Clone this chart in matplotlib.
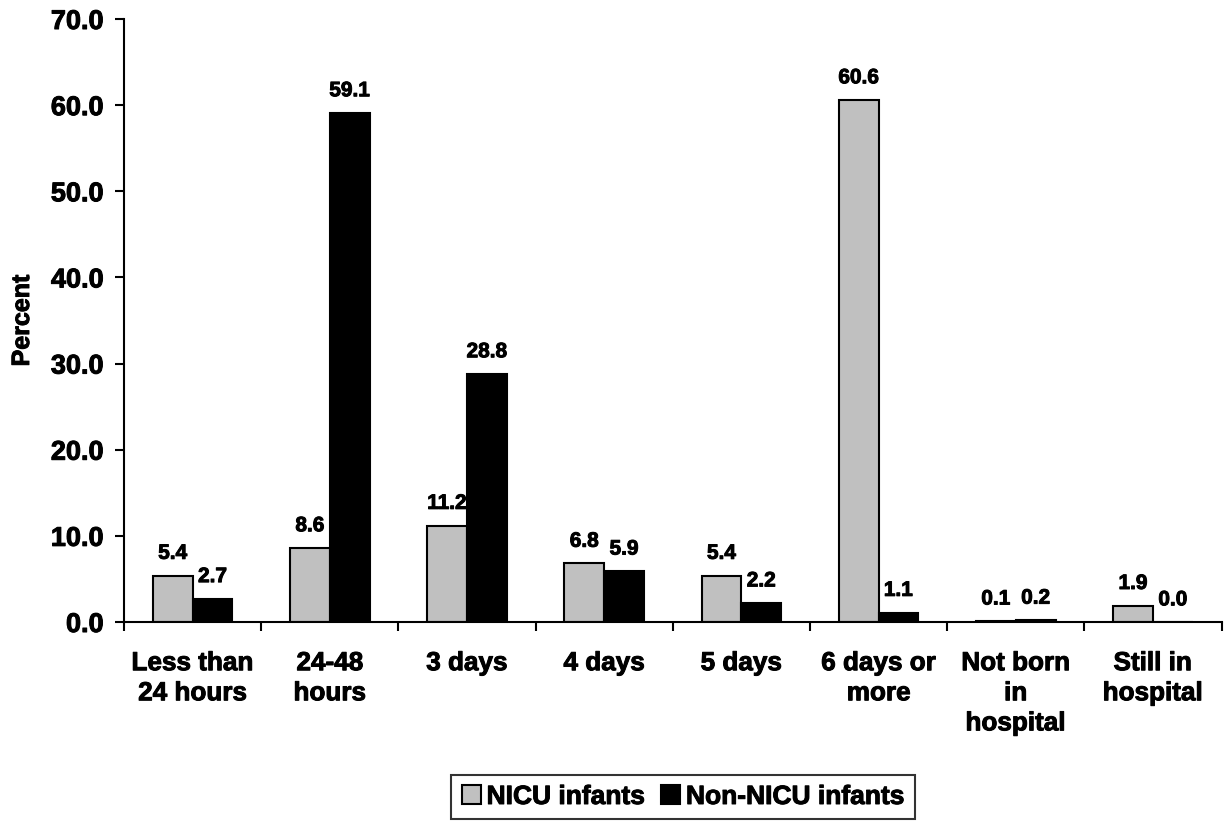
import matplotlib
matplotlib.use("Agg")
import matplotlib.pyplot as plt
import matplotlib.patheffects as pe
import numpy as np
from matplotlib.ticker import FixedLocator, FormatStrFormatter

plt.rcParams["font.family"] = ["Liberation Sans", "DejaVu Sans"]
plt.rcParams["font.weight"] = "bold"

categories = ["Less than\n24 hours", "24-48\nhours", "3 days", "4 days",
              "5 days", "6 days or\nmore", "Not born\nin\nhospital", "Still in\nhospital"]
nicu = [5.4, 8.6, 11.2, 6.8, 5.4, 60.6, 0.1, 1.9]
non_nicu = [2.7, 59.1, 28.8, 5.9, 2.2, 1.1, 0.2, 0.0]
series_names = ["NICU infants", "Non-NICU infants"]
y_ticks = [0, 10, 20, 30, 40, 50, 60, 70]

heavy = [pe.withStroke(linewidth=0.7, foreground="black")]

fig = plt.figure(figsize=(12.24, 8.23), dpi=100)
ax = fig.add_axes([0.1013, 0.2442, 0.8967, 0.7327])

x = np.arange(len(categories))
w = 0.29
b1 = ax.bar(x - w / 2, nicu, w, color="#C0C0C0", edgecolor="black", linewidth=1.5,
            label=series_names[0])
b2 = ax.bar(x + w / 2, non_nicu, w, color="black", edgecolor="black", linewidth=1.5,
            label=series_names[1])

for bars, vals in ((b1, nicu), (b2, non_nicu)):
    for rect, v in zip(bars, vals):
        ax.annotate(f"{v:.1f}", (rect.get_x() + rect.get_width() / 2, v),
                    xytext=(0, 12), textcoords="offset points",
                    ha="center", va="baseline", fontsize=15, fontweight="bold",
                    path_effects=heavy)

ax.set_xlim(-0.5, len(categories) - 0.5)
ax.set_ylim(0, 70)
ax.set_yticks(y_ticks)
ax.yaxis.set_major_formatter(FormatStrFormatter("%.1f"))
ax.set_xticks(x)
ax.set_xticklabels(categories, fontsize=18.8, fontweight="bold", linespacing=1.32)
ax.xaxis.set_minor_locator(FixedLocator(np.arange(len(categories) + 1) - 0.5))
ax.tick_params(axis="x", which="major", length=0, pad=21)
ax.tick_params(axis="x", which="minor", length=6.5, width=1.5, direction="out")
ax.tick_params(axis="y", which="major", length=6.5, width=1.5, pad=8, labelsize=19.5)
for lab in ax.get_xticklabels() + ax.get_yticklabels():
    lab.set_path_effects(heavy)

for s in ("top", "right"):
    ax.spines[s].set_visible(False)
for s in ("left", "bottom"):
    ax.spines[s].set_linewidth(1.5)

ax.set_ylabel("Percent", fontsize=18, fontweight="bold", path_effects=heavy)
ax.yaxis.set_label_coords(-0.082, 0.5)

leg = fig.legend(loc="center", bbox_to_anchor=(0.558, 0.0316), ncol=2, fontsize=19,
                 frameon=True, fancybox=False, handlelength=0.72, handleheight=0.72,
                 handletextpad=0.23, columnspacing=0.6, borderpad=0.38)
leg.get_frame().set_edgecolor("black")
leg.get_frame().set_linewidth(1.5)
for t in leg.get_texts():
    t.set_fontweight("bold")
    t.set_path_effects(heavy)

fig.savefig("out.png", dpi=100)
